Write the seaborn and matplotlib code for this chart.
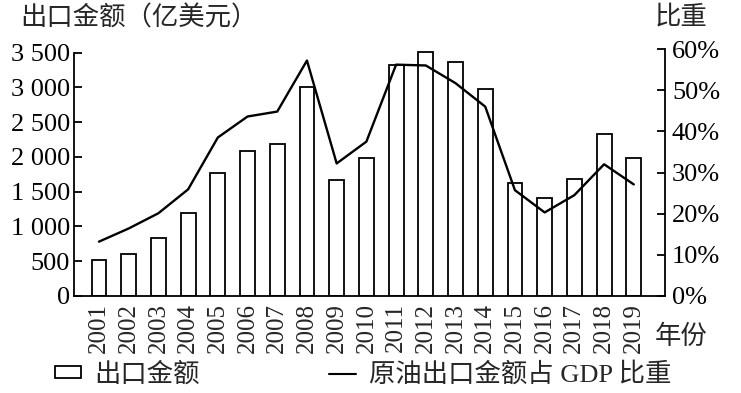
import numpy as np
import pandas as pd
import matplotlib
matplotlib.use("Agg")
import matplotlib.pyplot as plt
from matplotlib.patches import Patch
from matplotlib.lines import Line2D
import seaborn as sns

years = [str(y) for y in range(2001, 2020)]
export_value = [515, 600, 835, 1200, 1775, 2085, 2180, 3005, 1670, 1990,
                3320, 3510, 3360, 2975, 1630, 1405, 1685, 2325, 1980]
gdp_share = [13.2, 16.4, 20.1, 25.9, 38.5, 43.6, 44.8, 57.2, 32.2, 37.5,
             56.2, 56.0, 51.7, 46.0, 25.7, 20.3, 24.5, 32.0, 27.1]
left_ticks = [0, 500, 1000, 1500, 2000, 2500, 3000, 3500]
left_labels = ["0", "500", "1 000", "1 500", "2 000", "2 500", "3 000", "3 500"]
right_ticks = [0, 10, 20, 30, 40, 50, 60]
right_labels = ["0%", "10%", "20%", "30%", "40%", "50%", "60%"]

sns.set_style("white")
plt.rcParams["font.family"] = ["Liberation Serif", "Noto Sans CJK SC", "DejaVu Sans"]

W, H = 741, 393
fig = plt.figure(figsize=(W / 100, H / 100), dpi=100)
ax_l, ax_r, ax_b, ax_t = 74, 665, 296, 49
ax = fig.add_axes([ax_l / W, 1 - ax_b / H, (ax_r - ax_l) / W, (ax_b - ax_t) / H])

df = pd.DataFrame({"year": years, "value": export_value, "share": gdp_share})
sns.barplot(data=df, x="year", y="value", ax=ax, color="white",
            edgecolor="black", linewidth=1.3, width=0.5, saturation=1)
ax.set_xlim(-0.84, 19.05)
ax.set_ylim(0, 3500 * (ax_b - ax_t) / (ax_b - 52.7))
ax.set_yticks(left_ticks)
ax.set_yticklabels(left_labels, fontsize=19)
ax.set_xticks(range(len(years)))
ax.set_xticklabels(years, rotation=90, fontsize=18)
ax.tick_params(axis="y", direction="in", length=6, width=1.3, pad=3, colors="black")
ax.tick_params(axis="x", length=0, pad=5)
ax.set_xlabel("")
ax.set_ylabel("")
for s in ["top", "right"]:
    ax.spines[s].set_visible(False)
for s in ["left", "bottom"]:
    ax.spines[s].set_color("black")
    ax.spines[s].set_linewidth(1.3)
ax.spines["left"].set_bounds(0, 3500)

ax2 = ax.twinx()
sns.lineplot(x=np.arange(len(years)), y=gdp_share, ax=ax2, color="black", linewidth=1.7)
ax2.set_ylim(0, 60)
ax2.set_xlim(-0.84, 19.05)
ax2.set_yticks(right_ticks)
ax2.set_yticklabels(right_labels, fontsize=19)
ax2.tick_params(axis="y", direction="in", length=6, width=1.3, pad=5, colors="black")
for s in ["top", "left", "bottom"]:
    ax2.spines[s].set_visible(False)
ax2.spines["right"].set_color("black")
ax2.spines["right"].set_linewidth(1.3)
ax2.set_ylabel("")

fig.text(20 / W, 1 - 18 / H, "出口金额（亿美元）", fontsize=19, ha="left", va="center")
fig.text(681 / W, 1 - 18 / H, "比重", fontsize=19, ha="center", va="center")
fig.text(681 / W, 1 - 337 / H, "年份", fontsize=19, ha="center", va="center")

handles = [Patch(facecolor="white", edgecolor="black", linewidth=1.3),
           Line2D([0], [0], color="black", linewidth=1.5)]
fig.legend(handles=handles, labels=["出口金额", "原油出口金额占 GDP 比重"],
           ncol=2, loc="center left", bbox_to_anchor=(55 / W, 1 - 374 / H),
           frameon=False, fontsize=19, handlelength=1.0, handleheight=0.3,
           handletextpad=0.5, columnspacing=4.9, borderpad=0, borderaxespad=0)

fig.savefig("out.png", dpi=100)
